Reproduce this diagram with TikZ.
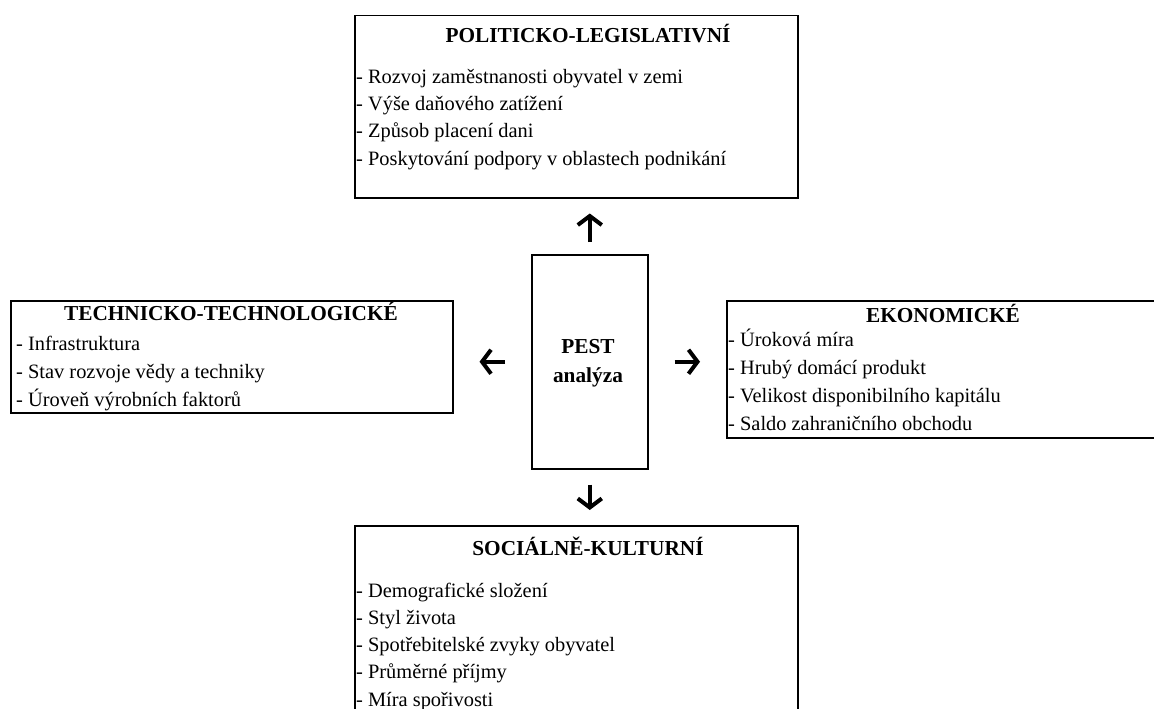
\documentclass[tikz,border=0pt]{standalone}
\usepackage{fontspec}
\setmainfont{Liberation Serif}
\usetikzlibrary{arrows.meta}
\begin{document}
\begin{tikzpicture}[x=1pt,y=-1pt,
  box/.style={draw, line width=1.5pt, inner sep=0pt, anchor=north west},
  ttl/.style={inner sep=0pt, anchor=base, font=\fontsize{21.3}{24}\selectfont\bfseries},
  items/.style={inner sep=0pt, anchor=base west, align=left, font=\fontsize{20.4}{#1}\selectfont},
  arr/.style={line width=4pt, -{Straight Barb[length=9pt,width=24pt]}}]
\clip (0,0) rectangle (1154,709);
\fill[white] (0,0) rectangle (1154,709);
% boxes
\node[box, minimum width=443, minimum height=182] (pol) at (354,15) {};
\node[box, minimum width=442, minimum height=112] (tech) at (10,300) {};
\node[box, minimum width=434, minimum height=137] (eko) at (726,300) {};
\node[box, minimum width=116, minimum height=214] (pest) at (531,254) {};
\node[box, minimum width=443, minimum height=220] (soc) at (354,525) {};
% texts (items anchored at the baseline of their last line)
\node[ttl] (polt) at (588,43) {POLITICKO-LEGISLATIVNÍ};
\node[items=27.3] (poli) at (356,165) {- Rozvoj zaměstnanosti obyvatel v zemi\\- Výše daňového zatížení\\- Způsob placení dani\\- Poskytování podpory v oblastech podnikání};
\node[ttl] (techt) at (231,320) {TECHNICKO-TECHNOLOGICKÉ};
\node[items=28] (techi) at (16,406) {- Infrastruktura\\- Stav rozvoje vědy a techniky\\- Úroveň výrobních faktorů};
\node[ttl] (ekot) at (943,322) {EKONOMICKÉ};
\node[items=28] (ekoi) at (728,430) {- Úroková míra\\- Hrubý domácí produkt\\- Velikost disponibilního kapitálu\\- Saldo zahraničního obchodu};
\node[ttl] (soct) at (588,555) {SOCIÁLNĚ-KULTURNÍ};
\node[items=27.2] (soci) at (356,706) {- Demografické složení\\- Styl života\\- Spotřebitelské zvyky obyvatel\\- Průměrné příjmy\\- Míra spořivosti};
\node[ttl] (pest1) at (588,353) {PEST};
\node[ttl] (pest2) at (588,382) {analýza};
% arrows
\draw[arr, shorten <=12pt, shorten >=15pt] (pest.north) -- (pest.north |- pol.south);
\draw[arr, shorten <=15pt, shorten >=15pt] (pest.south) -- (pest.south |- soc.north);
\draw[arr, shorten <=26pt, shorten >=26pt] (pest.west) -- (pest.west -| tech.east);
\draw[arr, shorten <=26pt, shorten >=26pt] (pest.east) -- (pest.east -| eko.west);
\end{tikzpicture}
\end{document}
